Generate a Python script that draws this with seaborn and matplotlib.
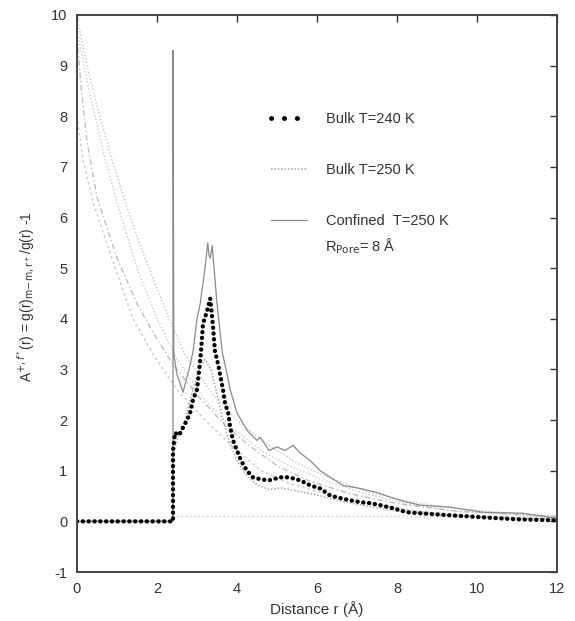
import numpy as np
import pandas as pd
import matplotlib
matplotlib.use("Agg")
import matplotlib.pyplot as plt
import seaborn as sns
from matplotlib.lines import Line2D

# ---------------- data ----------------
r_240 = [0, 2.4, 2.4, 2.45, 2.55, 2.65, 2.75, 2.83, 2.9, 3.0, 3.05, 3.1, 3.15, 3.25, 3.33,
         3.4, 3.45, 3.53, 3.6, 3.65, 3.7, 3.78, 3.83, 3.9, 4.0, 4.1, 4.25, 4.4, 4.6, 4.8,
         5.08, 5.3, 5.58, 5.83, 6.08, 6.33, 6.58, 6.8, 7.08, 7.33, 7.58, 7.9, 8.25, 8.58,
         9.33, 10.15, 11.0, 12.0]
y_240 = [0, 0, 1.4, 1.75, 1.7, 1.85, 2.0, 2.15, 2.4, 2.6, 2.95, 3.35, 3.9, 4.15, 4.4,
         3.85, 3.35, 3.1, 2.8, 2.6, 2.34, 2.14, 1.86, 1.6, 1.4, 1.2, 1.0, 0.87, 0.83, 0.81,
         0.87, 0.87, 0.81, 0.71, 0.65, 0.51, 0.46, 0.42, 0.38, 0.36, 0.32, 0.26, 0.18, 0.16,
         0.12, 0.08, 0.04, 0.02]

r_250 = [0, 2.4, 2.4, 2.5, 2.7, 2.9, 3.05, 3.2, 3.35, 3.5, 3.65, 3.8, 4.0, 4.25, 4.5,
         4.8, 5.1, 5.5, 6.0, 6.5, 7.0, 7.5, 8.0, 9.0, 10.0, 11.0, 12.0]
y_250 = [0, 0, 1.3, 1.6, 2.0, 2.6, 3.0, 3.2, 3.0, 2.5, 2.0, 1.6, 1.2, 0.9, 0.72,
         0.63, 0.66, 0.6, 0.52, 0.42, 0.34, 0.27, 0.2, 0.13, 0.09, 0.06, 0.04]

r_conf = [0, 2.4, 2.4, 2.42, 2.5, 2.65, 2.8, 2.9, 3.0, 3.08, 3.2, 3.27, 3.3, 3.33, 3.38,
          3.5, 3.63, 3.78, 3.83, 4.0, 4.25, 4.5, 4.58, 4.8, 5.0, 5.2, 5.4, 5.58, 5.83,
          6.08, 6.33, 6.65, 7.08, 7.5, 7.9, 8.25, 8.58, 9.33, 10.15, 11.15, 12.0]
y_conf = [0, 0, 9.3, 3.3, 2.9, 2.55, 3.0, 3.35, 4.0, 4.3, 5.0, 5.5, 5.25, 5.2, 5.45,
          4.3, 3.35, 2.8, 2.6, 2.14, 1.8, 1.6, 1.66, 1.4, 1.47, 1.4, 1.5, 1.35, 1.2,
          1.0, 0.87, 0.71, 0.65, 0.57, 0.46, 0.38, 0.32, 0.28, 0.18, 0.16, 0.06]

# smooth reference curves starting at r = 0
r_s1 = [0, 0.25, 0.5, 0.87, 1.25, 1.6, 2.0, 2.3, 2.7, 3.4, 4.0, 4.8, 5.5, 6.2, 7.2, 8.2, 9.5, 11.0, 12.0]
y_s1 = [9.95, 9.0, 8.2, 7.15, 6.2, 5.4, 4.6, 4.0, 3.3, 2.5, 2.0, 1.5, 1.15, 0.9, 0.6, 0.4, 0.25, 0.15, 0.1]
r_s2 = [0, 0.25, 0.7, 1.0, 1.5, 2.0, 2.5, 3.2, 3.8, 4.6, 5.3, 6.2, 7.2, 8.2, 9.5, 11.0, 12.0]
y_s2 = [9.7, 8.7, 7.15, 6.3, 5.0, 4.0, 3.2, 2.4, 1.9, 1.4, 1.1, 0.8, 0.55, 0.35, 0.2, 0.12, 0.08]
r_s3 = [0, 0.1, 0.25, 0.5, 1.0, 1.5, 2.0, 2.4, 3.0, 3.7, 4.3, 5.0, 5.8, 6.8, 8.0, 9.5, 12.0]
y_s3 = [9.6, 8.6, 7.5, 6.4, 5.2, 4.3, 3.6, 3.1, 2.5, 1.9, 1.5, 1.1, 0.8, 0.55, 0.35, 0.2, 0.1]
r_s4 = [0, 0.15, 0.4, 0.7, 1.0, 1.4, 1.9, 2.5, 3.2, 3.9, 4.6, 5.3, 6.2, 7.3, 8.5, 10.0, 12.0]
y_s4 = [8.0, 7.15, 6.3, 5.6, 4.9, 4.0, 3.3, 2.6, 2.0, 1.47, 1.0, 0.75, 0.55, 0.35, 0.2, 0.1, 0.05]

r_base = [2.4, 12.0]
y_base = [0.1, 0.1]

x_ticks = [0, 2, 4, 6, 8, 10, 12]
y_ticks = [-1, 0, 1, 2, 3, 4, 5, 6, 7, 8, 9, 10]

# ---------------- plotting ----------------
sns.set_style("white")
plt.rcParams['font.family'] = ['Liberation Sans', 'DejaVu Sans']

fig = plt.figure(figsize=(5.75, 6.21), dpi=100)
ax = fig.add_axes([77 / 575, 1 - 572 / 621, 480 / 575, 557 / 621])

def draw(r, y, **kw):
    df = pd.DataFrame({"r": r, "y": y})
    sns.lineplot(data=df, x="r", y="y", sort=False, estimator=None, ax=ax, **kw)

# smooth curves
draw(r_s1, y_s1, color="#c4c4c4", linewidth=1.0, linestyle=(0, (1, 1.5)))
draw(r_s2, y_s2, color="#cacaca", linewidth=1.0, linestyle=(0, (1, 1.5)))
draw(r_s3, y_s3, color="#bebebe", linewidth=1.0, linestyle=(0, (4, 2, 1, 2)))
draw(r_s4, y_s4, color="#cccccc", linewidth=1.0, linestyle=(0, (2, 2)))
draw(r_base, y_base, color="#cccccc", linewidth=1.0, linestyle=(0, (1, 2)))

# Bulk T=250 K
draw(r_250, y_250, color="#a8a8a8", linewidth=1.1, linestyle=(0, (1, 1.2)))
# Confined T=250 K
draw(r_conf, y_conf, color="#8a8a8a", linewidth=0.9, linestyle="-")
# Bulk T=240 K (black dots)
draw(r_240, y_240, color="black", linewidth=3.1, linestyle=(0, (0.05, 1.3)))
ax.lines[-1].set_dash_capstyle("round")

ax.set_xlim(0, 12)
ax.set_ylim(-1, 10)
ax.set_xticks(x_ticks)
ax.set_yticks(y_ticks)
ax.set_xticklabels([str(t) for t in x_ticks])
ax.set_yticklabels([str(t) for t in y_ticks])
ax.tick_params(direction="in", length=5, width=1, top=True, right=True,
               labelsize=10.5, colors="#333333", pad=7)
for s in ax.spines.values():
    s.set_linewidth(1.4)
    s.set_color("#444444")

ax.set_xlabel("Distance r (Å)", fontsize=11, color="#333333", labelpad=4)
ax.set_ylabel(r"A$^{+,f^*}$(r) = g(r)$_{\mathrm{m\!-\!m,r^+}}$/g(r) -1",
              fontsize=9.8, color="#333333")
ax.yaxis.set_label_coords(-0.083, 0.494)

handles = [
    Line2D([], [], color="black", linestyle=(0, (0.05, 2.6)), linewidth=3.5,
           dash_capstyle="round"),
    Line2D([], [], color="#a8a8a8", linewidth=1.1, linestyle=(0, (1, 1.2))),
    Line2D([], [], color="#8a8a8a", linewidth=0.9, linestyle="-"),
]
leg_labels = ["Bulk T=240 K", "Bulk T=250 K", "Confined  T=250 K"]
leg = ax.legend(handles, leg_labels, loc="upper left", bbox_to_anchor=(0.405, 0.826),
                frameon=False, fontsize=10.5, handlelength=2.45, handletextpad=1.3,
                labelspacing=2.55, borderpad=0, borderaxespad=0)
for t in leg.get_texts():
    t.set_color("#333333")

ax.text(0.517, 0.585, r"R$_{\mathrm{Pore}}$= 8 Å", transform=ax.transAxes,
        fontsize=10.5, color="#333333", va="center", ha="left")

fig.savefig("out.png", dpi=100)
